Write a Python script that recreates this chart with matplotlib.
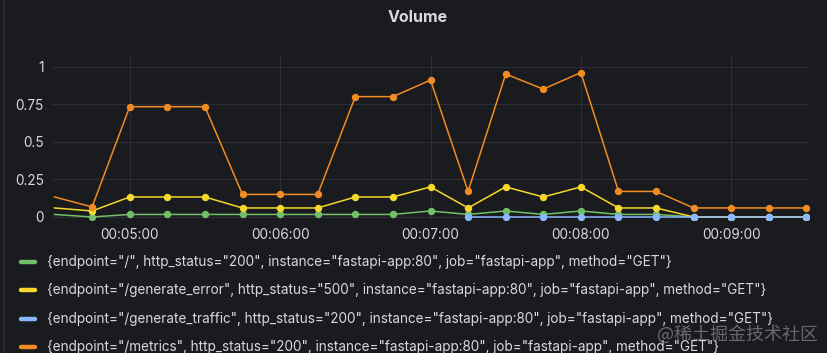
import matplotlib.pyplot as plt
from matplotlib.lines import Line2D
import numpy as np

# sample times, seconds from 00:00:00 (15 s steps)
times = ["00:04:30", "00:04:45", "00:05:00", "00:05:15", "00:05:30", "00:05:45", "00:06:00",
         "00:06:15", "00:06:30", "00:06:45", "00:07:00", "00:07:15", "00:07:30", "00:07:45",
         "00:08:00", "00:08:15", "00:08:30", "00:08:45", "00:09:00", "00:09:15", "00:09:30"]

root_vals = [0.017, 0.0, 0.017, 0.017, 0.017, 0.017, 0.017, 0.017, 0.017, 0.017, 0.04,
             0.017, 0.04, 0.017, 0.04, 0.017, 0.017, 0.0, 0.0, 0.0, 0.0]
error_vals = [0.06, 0.04, 0.133, 0.133, 0.133, 0.06, 0.06, 0.06, 0.133, 0.133, 0.2,
              0.06, 0.2, 0.133, 0.2, 0.06, 0.06, 0.0, 0.0, 0.0, 0.0]
traffic_vals = [None, None, None, None, None, None, None, None, None, None, None,
                0.0, 0.0, 0.0, 0.0, 0.0, 0.0, 0.0, 0.0, 0.0, 0.0]
metrics_vals = [0.133, 0.067, 0.733, 0.733, 0.733, 0.15, 0.15, 0.15, 0.8, 0.8, 0.91,
                0.17, 0.95, 0.85, 0.96, 0.17, 0.17, 0.06, 0.06, 0.06, 0.06]

labels = [
    '{endpoint="/", http_status="200", instance="fastapi-app:80", job="fastapi-app", method="GET"}',
    '{endpoint="/generate_error", http_status="500", instance="fastapi-app:80", job="fastapi-app", method="GET"}',
    '{endpoint="/generate_traffic", http_status="200", instance="fastapi-app:80", job="fastapi-app", method="GET"}',
    '{endpoint="/metrics", http_status="200", instance="fastapi-app:80", job="fastapi-app", method="GET"}',
]
colors = ["#73bf69", "#f5d82a", "#8ab8ff", "#f28b22"]

tick_times = ["00:05:00", "00:06:00", "00:07:00", "00:08:00", "00:09:00"]
y_ticks = [0, 0.25, 0.5, 0.75, 1]
y_ticklabels = ["0", "0.25", "0.5", "0.75", "1"]

BG = "#1a1b1f"
TXT = "#d8d8e0"


def secs(t):
    h, m, s = t.split(":")
    return int(h) * 3600 + int(m) * 60 + int(s)


x = np.array([secs(t) for t in times])

plt.rcParams["font.family"] = ["Inter", "DejaVu Sans"]
W, H = 828, 353
fig = plt.figure(figsize=(W / 100, H / 100), dpi=100, facecolor=BG)

left, right = 52, 809
top, bottom = 56, 220
ax = fig.add_axes([left / W, 1 - bottom / H, (right - left) / W, (bottom - top) / H])
ax.set_facecolor(BG)

series = [root_vals, error_vals, traffic_vals, metrics_vals]
for vals, c in zip(series, colors):
    y = np.array([np.nan if v is None else v for v in vals], dtype=float)
    ax.plot(x, y, color=c, lw=1.1, marker="o", ms=4.3, markevery=list(range(1, len(x))),
            solid_joinstyle="round")

ax.set_xlim(secs("00:04:29"), secs("00:09:31"))
ax.set_ylim(-0.02, 1.07)
ax.set_xticks([secs(t) for t in tick_times])
ax.set_xticklabels(tick_times)
ax.set_yticks(y_ticks)
ax.set_yticklabels(y_ticklabels)
ax.tick_params(colors=TXT, length=0, labelsize=9.8, pad=6)
ax.grid(True, color="#2c2e33", lw=0.8)
ax.set_axisbelow(True)
for s in ax.spines.values():
    s.set_visible(False)

# thin panel edge on the left
fig.add_artist(Line2D([4 / W, 4 / W], [0, 1], color="#2a2c31", lw=1.2))

fig.text(418 / W, 1 - 18 / H, "Volume", color=TXT, fontsize=11.5, fontweight="bold",
         ha="center", va="center")

# legend rows
rows_y = [262, 290, 318.5, 346.5]
for yy, c, lab in zip(rows_y, colors, labels):
    fig.add_artist(Line2D([21 / W, 35 / W], [1 - yy / H, 1 - yy / H], color=c, lw=3.2,
                          solid_capstyle="round"))
    fig.text(47 / W, 1 - yy / H, lab, color=TXT, fontsize=9.75, ha="left", va="center")

fig.text(818 / W, 1 - 334 / H, "@稀土掘金技术社区", color="#8a8a8f", alpha=0.7, fontsize=13,
         ha="right", va="center", family=["Noto Sans CJK SC", "DejaVu Sans"])

fig.savefig("out.png", dpi=100, facecolor=BG)
